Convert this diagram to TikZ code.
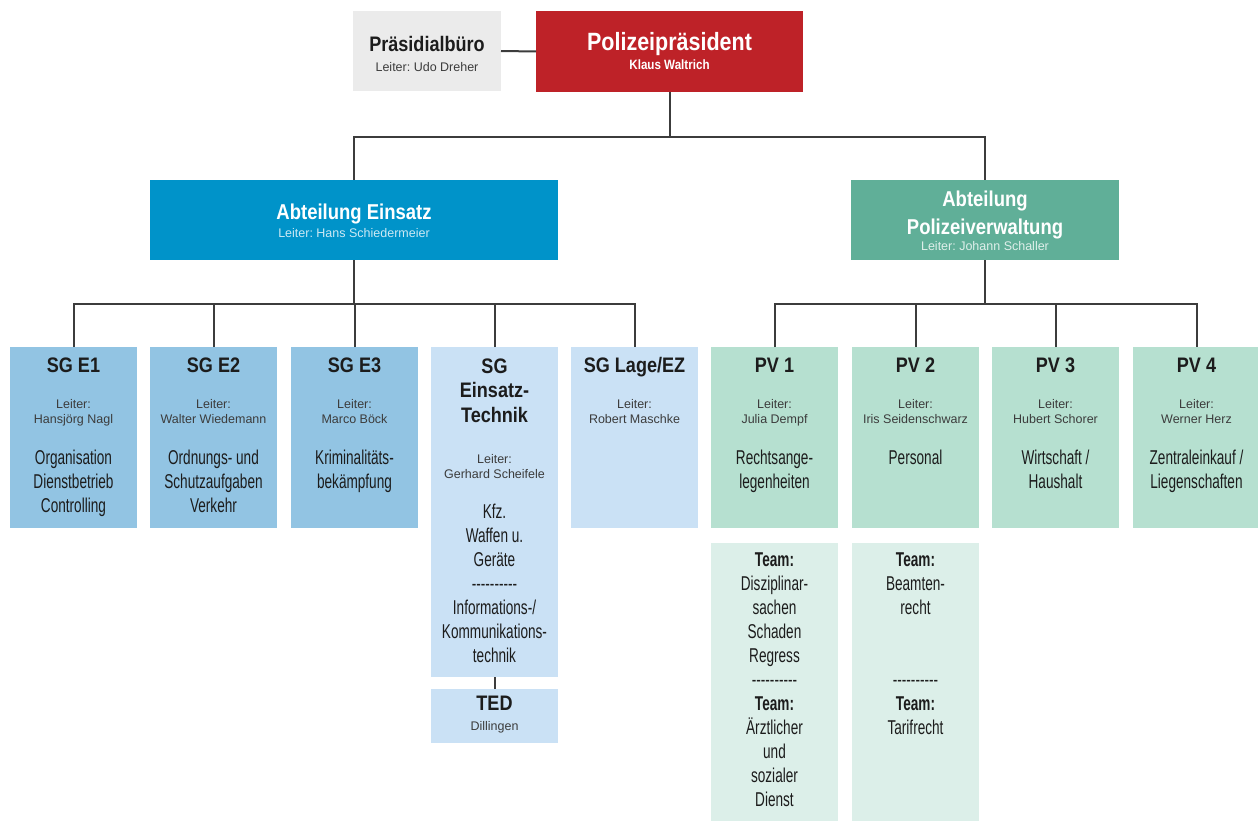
\documentclass[tikz,border=0pt]{standalone}
\usepackage{fontspec}
\setmainfont{Liberation Sans}
\newfontfamily\hdf[FakeStretch=0.86]{Liberation Sans}
\newfontfamily\bdf[FakeStretch=0.68]{Liberation Sans}
\usetikzlibrary{calc}
\frenchspacing
\definecolor{pbc}{RGB}{235,235,235}
\definecolor{ppc}{RGB}{190,34,40}
\definecolor{aec}{RGB}{0,147,201}
\definecolor{pvc}{RGB}{96,175,152}
\definecolor{sga}{RGB}{146,196,227}
\definecolor{sgb}{RGB}{202,225,245}
\definecolor{pva}{RGB}{182,224,208}
\definecolor{tmc}{RGB}{220,239,233}
\definecolor{linec}{RGB}{60,60,60}
\definecolor{txt}{RGB}{28,28,28}
\definecolor{txtb}{RGB}{60,60,60}
\newcommand{\hyph}{-{}-{}-{}-{}-{}-{}-{}-{}-{}-}
\newcommand{\txtlines}[5]{%
  \foreach \t [count=\i from 0] in {#5}
    \node[#2] (#1-#2-\i) at ($(#1.north)+(0,{#3+#4*\i})$) {\t};}
\begin{document}
\begin{tikzpicture}[x=1pt,y=-1pt,
  box/.style={inner sep=0pt, outer sep=0pt, anchor=north west, draw=none},
  conn/.style={draw=linec, line width=2pt},
  ttl/.style={anchor=base, inner sep=0pt, text=txt, font=\hdf\bfseries\fontsize{21}{24}\selectfont},
  ldr/.style={anchor=base, inner sep=0pt, text=txtb, font=\fontsize{12.5}{15}\selectfont},
  bod/.style={anchor=base, inner sep=0pt, text=txt, font=\bdf\fontsize{20}{24}\selectfont},
  ttlw/.style={ttl, text=white},
  ldrw/.style={ldr, text=white!80!aec}]
\useasboundingbox (0,0) rectangle (1258,821);
\coordinate (y1) at (0,137);
\coordinate (y2) at (0,304);
% boxes
\node[box, fill=pbc, minimum width=148pt, minimum height=80pt] (pb) at (353,11) {};
\node[box, fill=ppc, minimum width=267pt, minimum height=81pt] (pp) at (536,11) {};
\node[box, fill=aec, minimum width=408pt, minimum height=80pt] (ae) at (150,180) {};
\node[box, fill=pvc, minimum width=268pt, minimum height=80pt] (pv) at (851,180) {};
\node[box, fill=sga, minimum width=127pt, minimum height=181pt] (e1) at (10,347) {};
\node[box, fill=sga, minimum width=127pt, minimum height=181pt] (e2) at (150,347) {};
\node[box, fill=sga, minimum width=127pt, minimum height=181pt] (e3) at (291,347) {};
\node[box, fill=sgb, minimum width=127pt, minimum height=330pt] (et) at (431,347) {};
\node[box, fill=sgb, minimum width=127pt, minimum height=181pt] (lage) at (571,347) {};
\node[box, fill=sgb, minimum width=127pt, minimum height=54pt] (ted) at (431,689) {};
\node[box, fill=pva, minimum width=127pt, minimum height=181pt] (p1) at (711,347) {};
\node[box, fill=pva, minimum width=127pt, minimum height=181pt] (p2) at (852,347) {};
\node[box, fill=pva, minimum width=127pt, minimum height=181pt] (p3) at (992,347) {};
\node[box, fill=pva, minimum width=127pt, minimum height=181pt] (p4) at (1133,347) {};
\node[box, fill=tmc, minimum width=127pt, minimum height=278pt] (t1) at (711,543) {};
\node[box, fill=tmc, minimum width=127pt, minimum height=278pt] (t2) at (852,543) {};
% connectors
\draw[conn] (pb.east) -- (pp.west);
\draw[conn] (pp.south) -- (pp.south |- y1);
\draw[conn] (ae.north) -- (ae.north |- y1) -- (pv.north |- y1) -- (pv.north);
\draw[conn] (ae.south) -- (ae.south |- y2);
\draw[conn] (e1.north) -- (e1.north |- y2) -- (lage.north |- y2) -- (lage.north);
\foreach \n in {e2,e3,et} \draw[conn] (\n.north) -- (\n.north |- y2);
\draw[conn] (pv.south) -- (pv.south |- y2);
\draw[conn] (p1.north) -- (p1.north |- y2) -- (p4.north |- y2) -- (p4.north);
\foreach \n in {p2,p3} \draw[conn] (\n.north) -- (\n.north |- y2);
\draw[conn] (et.south) -- (ted.north);
% top texts
\node[ttl] (pbt) at ($(pb.north)+(0,41)$) {Präsidialbüro};
\node[ldr] (pbl) at ($(pb.north)+(0,61)$) {Leiter: Udo Dreher};
\node[ttlw, font=\hdf\bfseries\fontsize{25}{28}\selectfont] (ppt) at ($(pp.north)+(0,40)$) {Polizeipräsident};
\node[ttlw, font=\hdf\bfseries\fontsize{13.5}{16}\selectfont] (ppl) at ($(pp.north)+(0,59)$) {Klaus Waltrich};
\node[ttlw, font=\hdf\bfseries\fontsize{21.5}{26}\selectfont] (aet) at ($(ae.north)+(0,39)$) {Abteilung Einsatz};
\node[ldrw] (ael) at ($(ae.north)+(0,57)$) {Leiter: Hans Schiedermeier};
\node[ttlw, font=\hdf\bfseries\fontsize{21.5}{26}\selectfont] (pvt1) at ($(pv.north)+(0,27)$) {Abteilung};
\node[ttlw, font=\hdf\bfseries\fontsize{21.5}{26}\selectfont] (pvt2) at ($(pv.north)+(0,54)$) {Polizeiverwaltung};
\node[ldr, text=white!80!pvc] (pvl) at ($(pv.north)+(0,70)$) {Leiter: Johann Schaller};
% SG E1
\txtlines{e1}{ttl}{25}{24}{SG E1}
\txtlines{e1}{ldr}{61}{15}{Leiter:,Hansjörg Nagl}
\txtlines{e1}{bod}{117}{24}{Organisation,Dienstbetrieb,Controlling}
% SG E2
\txtlines{e2}{ttl}{25}{24}{SG E2}
\txtlines{e2}{ldr}{61}{15}{Leiter:,Walter Wiedemann}
\txtlines{e2}{bod}{117}{24}{Ordnungs- und,Schutzaufgaben,Verkehr}
% SG E3
\txtlines{e3}{ttl}{25}{24}{SG E3}
\txtlines{e3}{ldr}{61}{15}{Leiter:,Marco Böck}
\txtlines{e3}{bod}{117}{24}{Kriminalitäts-,bekämpfung}
% SG Einsatz-Technik
\txtlines{et}{ttl}{26}{24.5}{SG,Einsatz-,Technik}
\txtlines{et}{ldr}{116}{15}{Leiter:,Gerhard Scheifele}
\txtlines{et}{bod}{171}{24}{Kfz.,Waffen u.,Geräte,\hyph,Informations-/,Kommunikations-,technik}
% SG Lage/EZ
\txtlines{lage}{ttl}{25}{24}{SG Lage/EZ}
\txtlines{lage}{ldr}{61}{15}{Leiter:,Robert Maschke}
% TED
\txtlines{ted}{ttl}{21}{24}{TED}
\txtlines{ted}{ldr}{41}{15}{Dillingen}
% PV 1-4
\txtlines{p1}{ttl}{25}{24}{PV 1}
\txtlines{p1}{ldr}{61}{15}{Leiter:,Julia Dempf}
\txtlines{p1}{bod}{117}{24}{Rechtsange-,legenheiten}
\txtlines{p2}{ttl}{25}{24}{PV 2}
\txtlines{p2}{ldr}{61}{15}{Leiter:,Iris Seidenschwarz}
\txtlines{p2}{bod}{117}{24}{Personal}
\txtlines{p3}{ttl}{25}{24}{PV 3}
\txtlines{p3}{ldr}{61}{15}{Leiter:,Hubert Schorer}
\txtlines{p3}{bod}{117}{24}{Wirtschaft /,Haushalt}
\txtlines{p4}{ttl}{25}{24}{PV 4}
\txtlines{p4}{ldr}{61}{15}{Leiter:,Werner Herz}
\txtlines{p4}{bod}{117}{24}{Zentraleinkauf /,Liegenschaften}
% Teams
\txtlines{t1}{bod}{23}{24}{\textbf{Team:},Disziplinar-,sachen,Schaden,Regress,\hyph,\textbf{Team:},Ärztlicher,und,sozialer,Dienst}
\txtlines{t2}{bod}{23}{24}{\textbf{Team:},Beamten-,recht}
\txtlines{t2}{bod}{143}{24}{\hyph,\textbf{Team:},Tarifrecht}
\end{tikzpicture}
\end{document}
